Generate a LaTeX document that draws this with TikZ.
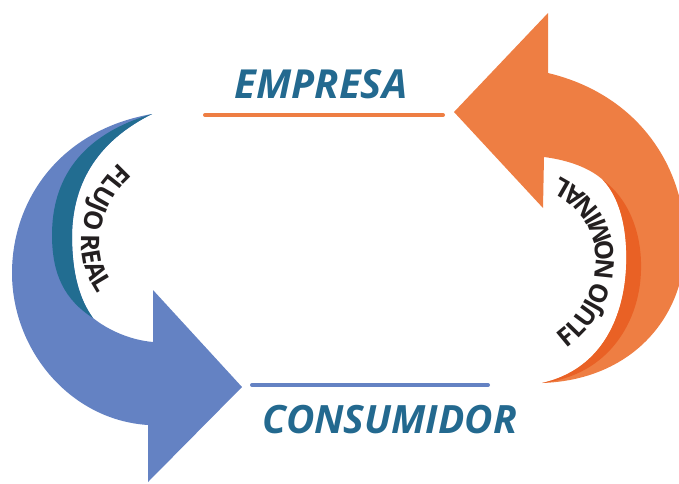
\documentclass[tikz,border=0pt]{standalone}
\usepackage{fontspec}
\setmainfont{Open Sans}
\usetikzlibrary{decorations.text}
\definecolor{lblue}{HTML}{6482C3}
\definecolor{dteal}{HTML}{226D91}
\definecolor{lorange}{HTML}{EE7E43}
\definecolor{dorange}{HTML}{E96125}
\definecolor{titlec}{HTML}{23698F}
\definecolor{txtc}{HTML}{231F20}
\newcommand\flowfont{\fontsize{25.5}{25.5}\selectfont\bfseries}
\tikzset{
  titletext/.style={text=titlec, font=\fontsize{40}{40}\selectfont\bfseries\itshape, inner sep=0pt, anchor=center},
  underline/.style={line width=4pt, line cap=round},
  flowtext/.style={decorate, decoration={text along path, text align=center, text color=txtc, text={|\flowfont|#1}}}
}
\begin{document}
\begin{tikzpicture}[x=1pt,y=-1pt]
\useasboundingbox (0,0) rectangle (679,483);
% left blue arrow
\fill[lblue] (152,114) .. controls (60,130) and (12,200) .. (12,273) .. controls (12,350) and (70,420) .. (148,425) -- (148,482) -- (242,387) -- (153,290) -- (153,342) .. controls (130,340) and (108,330) .. (93,318) .. controls (80,300) and (72,275) .. (72,235) .. controls (73,180) and (100,140) .. (152,114) -- cycle;
\fill[dteal] (152,114) .. controls (80,135) and (52,180) .. (52,235) .. controls (52,275) and (65,300) .. (93,318) .. controls (80,300) and (72,275) .. (72,235) .. controls (73,180) and (100,140) .. (152,114) -- cycle;
% right orange arrow
\fill[lorange] (454,112) -- (548,13) -- (548,73) .. controls (640,95) and (688,170) .. (685,250) .. controls (682,320) and (630,380) .. (542,383) .. controls (600,370) and (623,320) .. (626,270) .. controls (628,235) and (622,200) .. (603,180) .. controls (590,168) and (568,160) .. (544,157) -- (543,208) -- cycle;
\fill[dorange] (603,180) .. controls (630,200) and (642,235) .. (641,270) .. controls (640,320) and (610,375) .. (542,383) .. controls (600,370) and (623,320) .. (626,270) .. controls (628,235) and (622,200) .. (603,180) -- cycle;
% flow labels
\path[flowtext={FLUJO REAL}] (142,146) .. controls (95,175) and (80,215) .. (82,250) .. controls (84,275) and (95,297) .. (117,314);
\path[flowtext={FLUJO NOMINAL}] (558,354) .. controls (600,327) and (614,290) .. (614,260) .. controls (614,225) and (595,190) .. (550,172);
% titles
\node[titletext] (emp) at (321,84) {EMPRESA};
\node[titletext, font=\fontsize{39}{39}\selectfont\bfseries\itshape] (cons) at (390,420) {CONSUMIDOR};
\coordinate (ea) at (205,115);
\coordinate (eb) at (443,115);
\coordinate (ca) at (252,385);
\coordinate (cb) at (488,385);
\draw[underline, lorange] (ea) -- (eb);
\draw[underline, lblue] (ca) -- (cb);
\end{tikzpicture}
\end{document}
